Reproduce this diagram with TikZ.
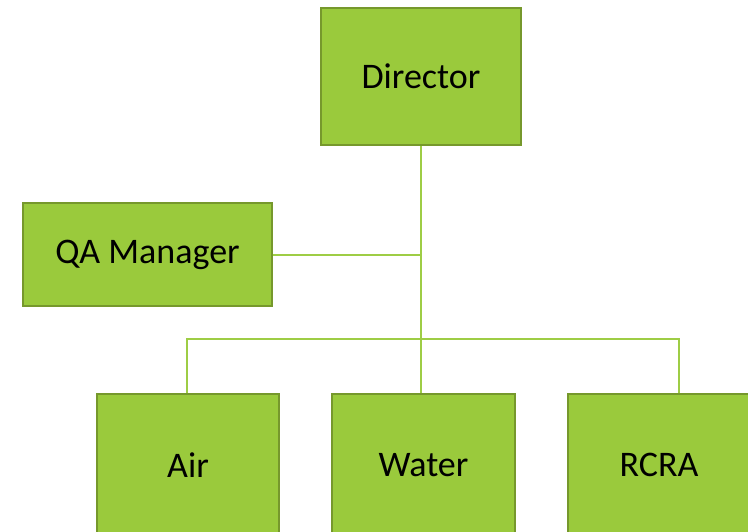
\documentclass[tikz,border=0pt]{standalone}
\usepackage{fontspec}
\setmainfont{Carlito}
\definecolor{boxfill}{HTML}{9ACA3C}
\definecolor{boxline}{HTML}{76982C}
\definecolor{linkline}{HTML}{9ECD45}
\begin{document}
\begin{tikzpicture}[x=1pt,y=-1pt,
  orgbox/.style={draw=boxline,line width=2.5pt,fill=boxfill,inner sep=0pt,
    font=\fontsize{36}{42}\selectfont,text=black},
  link/.style={draw=linkline,line width=2pt}]
\useasboundingbox (0,0) rectangle (748,531);
\begin{scope}
\clip (0,0) rectangle (748,531);
\node[orgbox,minimum width=200pt,minimum height=137pt] (dir) at (421,76.5) {Director};
\node[orgbox,minimum width=249pt,minimum height=103pt] (qa) at (147.5,254.5) {QA Manager};
\node[orgbox,minimum width=182pt,minimum height=142pt] (air) at (188,465) {Air};
\node[orgbox,minimum width=183pt,minimum height=142pt] (water) at (423.5,465) {Water};
\node[orgbox,minimum width=182pt,minimum height=142pt] (rcra) at (659,465) {RCRA};
\coordinate (mid) at (dir.south |- qa.east);
\coordinate (barl) at (187,339);
\coordinate (barr) at (679,339);
\coordinate (rdrop) at (rcra.north -| barr);
\draw[link] (dir.south) -- (water.north -| dir.south);
\draw[link] (qa.east) -- (mid);
\draw[link] (air.north -| barl) -- (barl) -- (barr) -- (rdrop);
\end{scope}
\end{tikzpicture}
\end{document}
